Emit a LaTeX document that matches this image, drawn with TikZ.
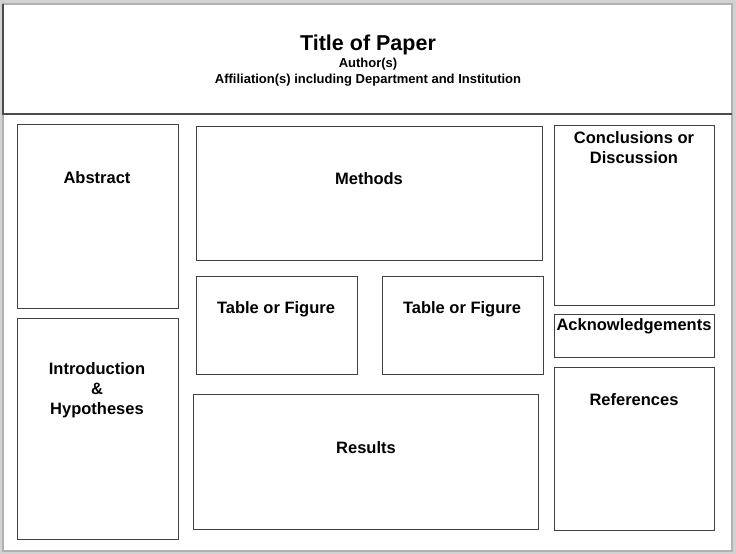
\documentclass[tikz,border=0pt]{standalone}
\usepackage{fontspec}
\setmainfont{Liberation Sans}
\begin{document}
\begin{tikzpicture}[x=1pt,y=-1pt,
  panel/.style={draw=black!75,line width=0.8pt},
  lbl/.style={font=\bfseries\fontsize{16.5}{20}\selectfont,align=center}]
\useasboundingbox (0,0) rectangle (736,554);
\fill[gray!35] (0,0) rectangle (736,554);
\fill[white] (3,4) rectangle (732,551);
\draw[gray!60,line width=1.5pt] (3,4) rectangle (732,551);
\draw[black!70,line width=1.2pt] (3,4) -- (3,114) -- (732,114);
\node[lbl,font=\bfseries\fontsize{21.5}{24}\selectfont] (t) at (368,45) {Title of Paper};
\node[lbl,font=\bfseries\fontsize{13}{15}\selectfont] (au) at (368,64) {Author(s)};
\node[lbl,font=\bfseries\fontsize{13}{15}\selectfont] (af) at (368,80) {Affiliation(s) including Department and Institution};
\draw[panel] (17,124) rectangle (178,308);
\node[lbl] (abs) at (97,178) {Abstract};
\draw[panel] (17,318) rectangle (178,539);
\node[lbl] (intro) at (97,390) {Introduction\\\&\\Hypotheses};
\draw[panel] (196,126) rectangle (542,260);
\node[lbl] (meth) at (369,179) {Methods};
\draw[panel] (196,276) rectangle (357,374);
\node[lbl] (tf1) at (276,309) {Table or Figure};
\draw[panel] (382,276) rectangle (543,374);
\node[lbl] (tf2) at (462,309) {Table or Figure};
\draw[panel] (193,394) rectangle (538,529);
\node[lbl] (res) at (366,448) {Results};
\draw[panel] (554,125) rectangle (714,305);
\node[lbl] (conc) at (634,148) {Conclusions or\\Discussion};
\draw[panel] (554,314) rectangle (714,357);
\node[lbl] (ack) at (634,326) {Acknowledgements};
\draw[panel] (554,367) rectangle (714,530);
\node[lbl] (ref) at (634,400) {References};
\end{tikzpicture}
\end{document}
